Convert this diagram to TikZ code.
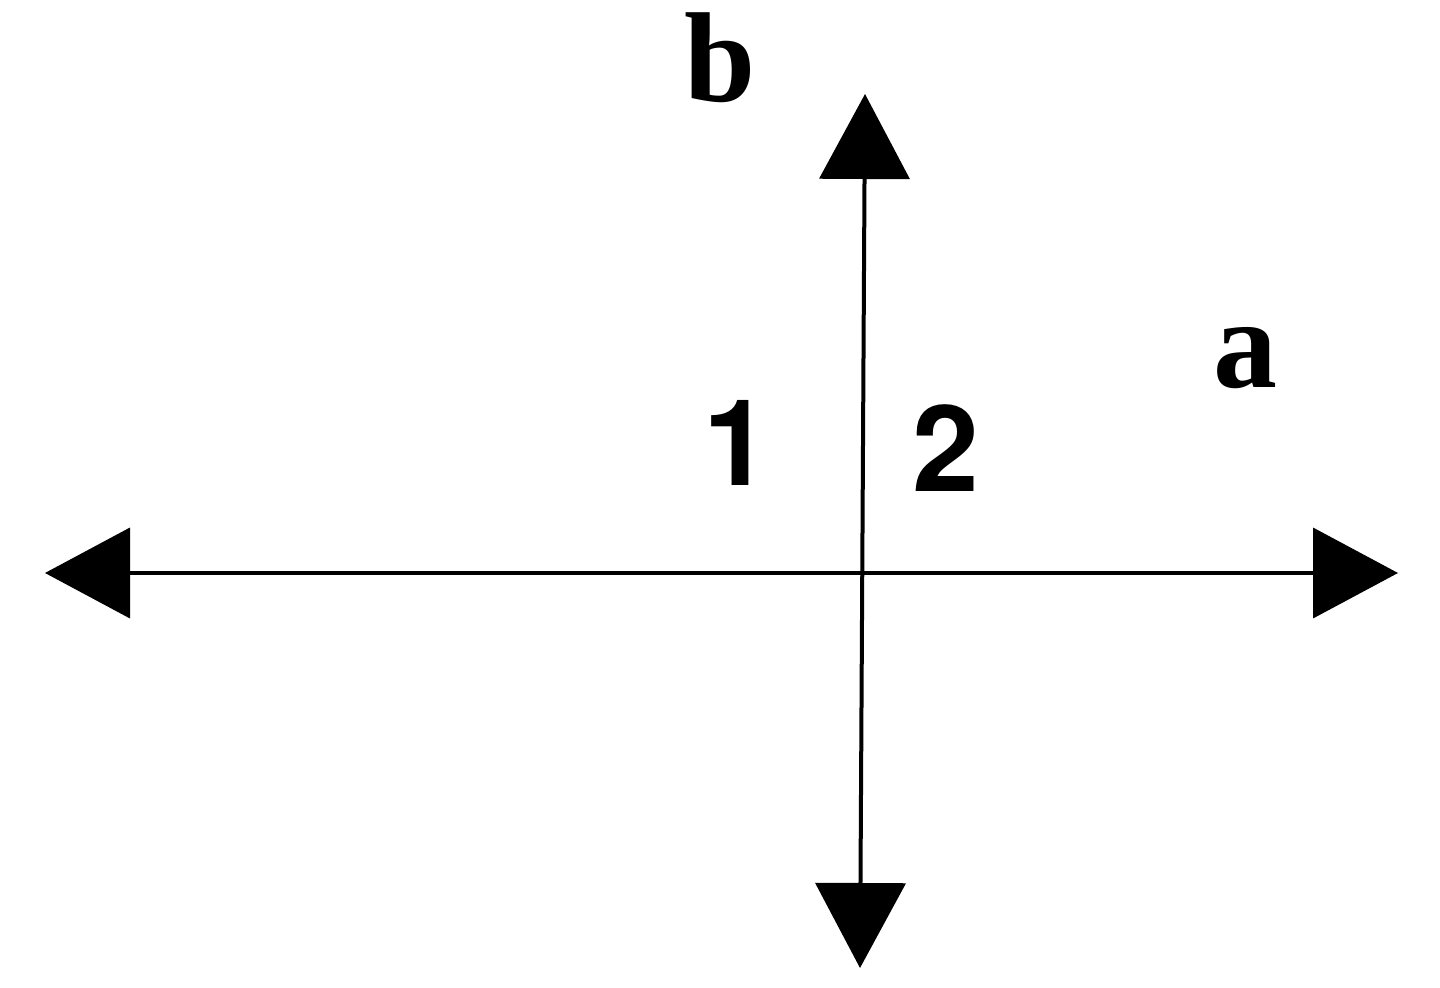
\documentclass[tikz,border=0pt]{standalone}
\usepackage{fontspec}
\setmainfont{Liberation Serif}[BoldFont={Liberation Serif Bold}]
\newfontfamily\digitfont{TeX Gyre Heros}
\usetikzlibrary{arrows.meta}
\begin{document}
\begin{tikzpicture}[x=0.5pt,y=-0.5pt,
  axis/.style={line width=2pt,
    {Triangle[length=42.5pt,width=45pt]}-{Triangle[length=42.5pt,width=45pt]}},
  letter/.style={font=\fontsize{64}{64}\selectfont\bfseries, inner sep=0pt},
  digit/.style={font=\digitfont\bfseries\fontsize{60}{60}\selectfont, inner sep=0pt}]
\useasboundingbox (0,0) rectangle (1440,988);
\coordinate (L) at (45,573);
\coordinate (R) at (1398,573);
\coordinate (T) at (865,94);
\coordinate (B) at (860,968);
\draw[axis] (L) -- (R);
\draw[axis] (B) -- (T);
\node[letter] (b) at (720,58) {b};
\node[letter] (a) at (1245,358) {a};
\node[digit] (one) at (737,443) {1};
\node[digit] (two) at (946,448) {2};
\end{tikzpicture}
\end{document}
